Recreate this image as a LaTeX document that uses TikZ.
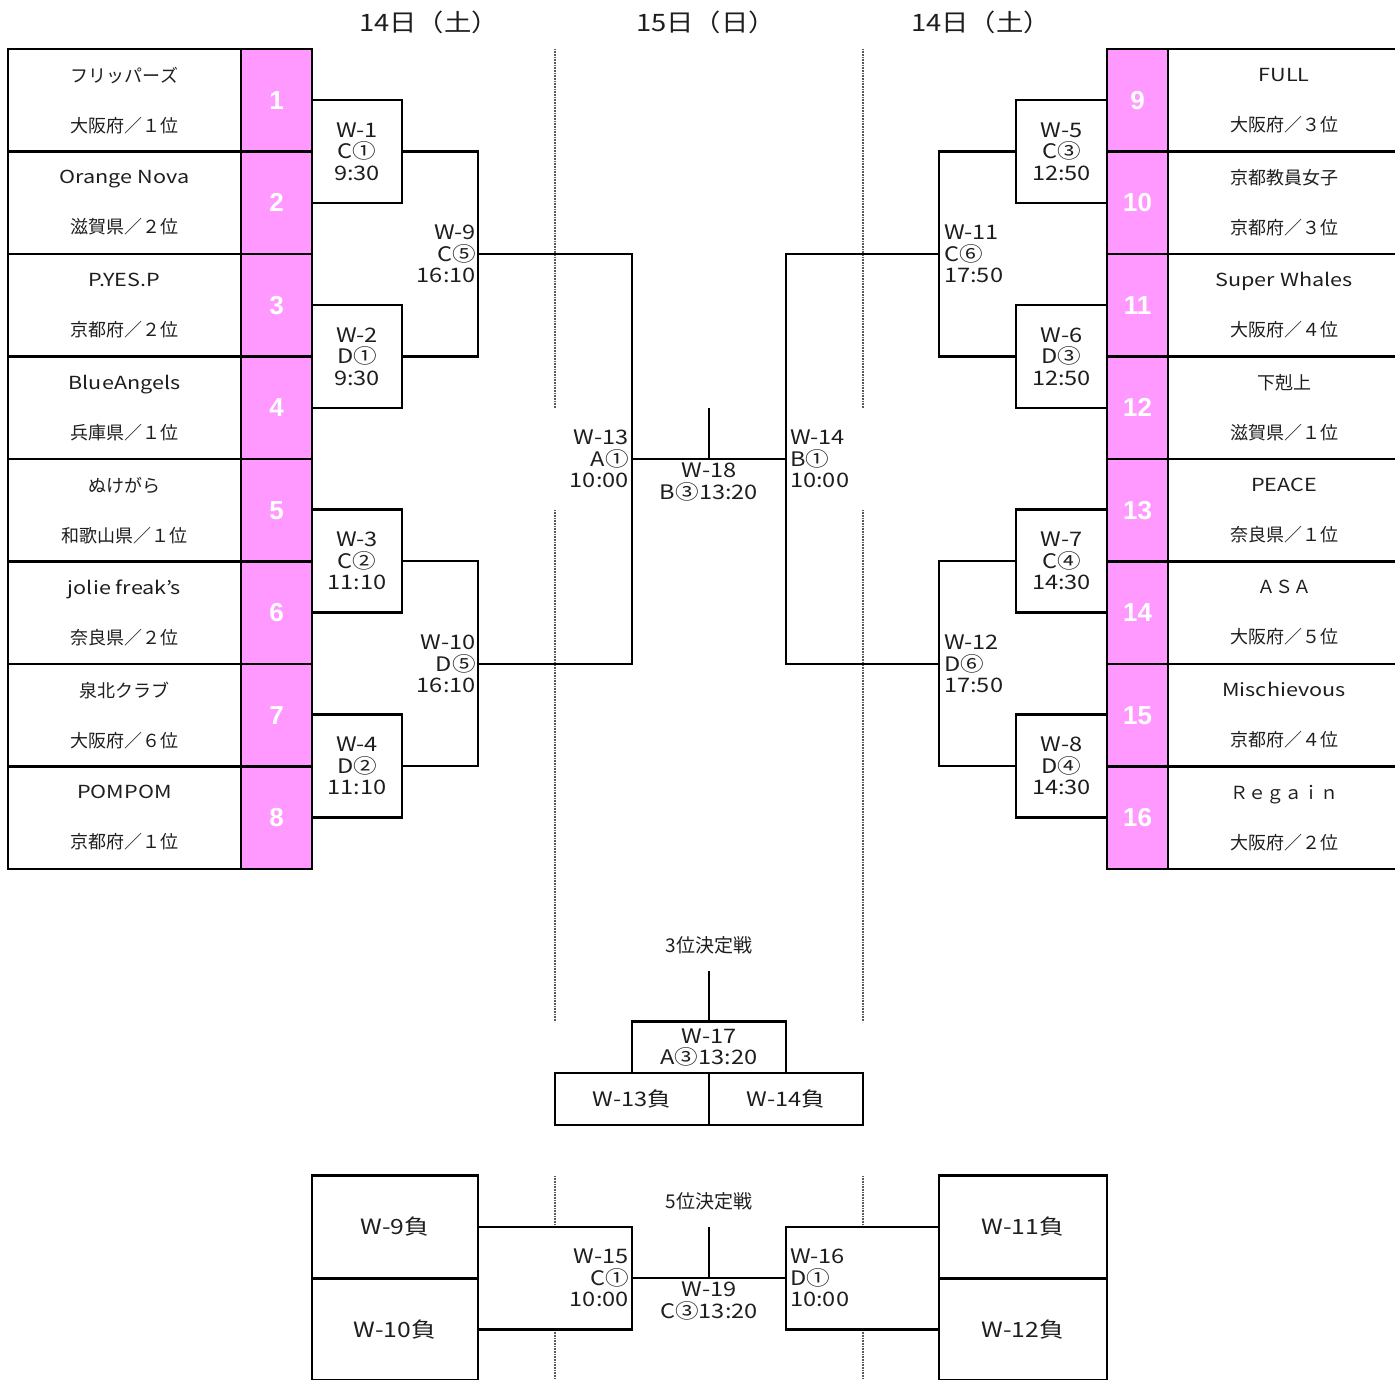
\documentclass[tikz,border=0pt]{standalone}
\usepackage{fontspec}
\setmainfont{Noto Sans CJK JP}
\newfontfamily\wide[FakeStretch=1.18]{Noto Sans CJK JP}
\newfontfamily\lat[FakeStretch=1.2]{Noto Sans CJK JP}
\newfontfamily\ttl[FakeStretch=1.14]{Noto Sans CJK JP}
\newfontfamily\numfont{Liberation Sans}
\definecolor{pinkcell}{RGB}{255,153,255}
\definecolor{ink}{RGB}{30,30,30}
\definecolor{dotgray}{RGB}{90,90,90}
\begin{document}
\begin{tikzpicture}[x=1pt,y=-1pt,
  lw/.style={line width=2.8pt},
  team/.style={draw=black,lw,fill=white,minimum width=233pt,minimum height=102.5pt,inner sep=0pt,align=center,text=ink,font=\fontsize{18}{52}\selectfont},
  rteam/.style={team,minimum width=232pt},
  seed/.style={draw=black,lw,fill=pinkcell,minimum width=71pt,minimum height=102.5pt,inner sep=0pt,text=white,font=\numfont\bfseries\fontsize{26}{30}\selectfont},
  rseed/.style={seed,minimum width=61pt},
  matchbox/.style={draw=black,lw,fill=white,minimum width=90pt,minimum height=103pt,inner sep=0pt,align=center,text=ink,font=\wide\fontsize{20}{21.5}\selectfont},
  lab/.style={inner sep=0pt,text=ink,font=\wide\fontsize{20}{21.5}\selectfont},
  smallbox/.style={draw=black,lw,fill=white,minimum width=154pt,minimum height=51.5pt,inner sep=0pt,align=center,text=ink,font=\wide\fontsize{20}{21.5}\selectfont},
  losebox/.style={draw=black,lw,fill=white,minimum width=166pt,minimum height=102.5pt,inner sep=0pt,align=center,text=ink,font=\wide\fontsize{21}{24}\selectfont},
  title/.style={inner sep=0pt,text=ink,font=\ttl\fontsize{24}{28}\selectfont},
  captext/.style={inner sep=0pt,text=ink,font=\fontsize{19}{22}\selectfont},
  dots/.style={draw=dotgray,line width=1.3pt,dash pattern=on 0.8pt off 0.8pt},
  wire/.style={draw=black,lw}
]
\useasboundingbox (0,0) rectangle (1395,1380);
% dotted day separators
\foreach \x in {555,863}{
  \draw[dots] (\x,49) -- (\x,408);
  \draw[dots] (\x,510) -- (\x,1022);
  \draw[dots] (\x,1176) -- (\x,1227);
  \draw[dots] (\x,1330) -- (\x,1385);
}
% titles
\node[title] (d1) at (429,22) {14日（土）};
\node[title] (d2) at (706,22) {15日（日）};
\node[title] (d3) at (981,22) {14日（土）};
% left teams
\node[team] (t1) at (124.5,100.25) {\raisebox{-2pt}{フリッパーズ}\\大阪府／１位};
\node[team] (t2) at (124.5,202.75) {\raisebox{-2pt}{\lat Orange Nova}\\滋賀県／２位};
\node[team] (t3) at (124.5,305.25) {\raisebox{-2pt}{\lat P.YES.P}\\京都府／２位};
\node[team] (t4) at (124.5,407.75) {\raisebox{-2pt}{\lat BlueAngels}\\兵庫県／１位};
\node[team] (t5) at (124.5,510.25) {\raisebox{-2pt}{ぬけがら}\\和歌山県／１位};
\node[team] (t6) at (124.5,612.75) {\raisebox{-2pt}{\lat jolie freak’s}\\奈良県／２位};
\node[team] (t7) at (124.5,715.25) {\raisebox{-2pt}{泉北クラブ}\\大阪府／６位};
\node[team] (t8) at (124.5,817.75) {\raisebox{-2pt}{\lat POMPOM}\\京都府／１位};
\foreach \i/\y in {1/100.25,2/202.75,3/305.25,4/407.75,5/510.25,6/612.75,7/715.25,8/817.75}{
  \node[seed] (s\i) at (276.5,\y) {\i};
}
% right teams
\node[rteam] (t9) at (1284,100.25) {\raisebox{-2pt}{\lat FULL}\\大阪府／３位};
\node[rteam] (t10) at (1284,202.75) {\raisebox{-2pt}{京都教員女子}\\京都府／３位};
\node[rteam] (t11) at (1284,305.25) {\raisebox{-2pt}{\lat Super Whales}\\大阪府／４位};
\node[rteam] (t12) at (1284,407.75) {\raisebox{-2pt}{下剋上}\\滋賀県／１位};
\node[rteam] (t13) at (1284,510.25) {\raisebox{-2pt}{\lat PEACE}\\奈良県／１位};
\node[rteam] (t14) at (1284,612.75) {\raisebox{-2pt}{ＡＳＡ}\\大阪府／５位};
\node[rteam] (t15) at (1284,715.25) {\raisebox{-2pt}{\lat Mischievous}\\京都府／４位};
\node[rteam] (t16) at (1284,817.75) {\raisebox{-2pt}{Ｒｅｇａｉｎ}\\大阪府／２位};
\foreach \i/\y in {9/100.25,10/202.75,11/305.25,12/407.75,13/510.25,14/612.75,15/715.25,16/817.75}{
  \node[rseed] (s\i) at (1137.5,\y) {\i};
}
% first round match boxes
\node[matchbox] (m1) at (357,151.5) {W-1\\C①\\9:30};
\node[matchbox] (m2) at (357,356.5) {W-2\\D①\\9:30};
\node[matchbox] (m3) at (357,561) {W-3\\C②\\11:10};
\node[matchbox] (m4) at (357,766) {W-4\\D②\\11:10};
\node[matchbox,minimum width=91pt] (m5) at (1061.5,151.5) {W-5\\C③\\12:50};
\node[matchbox,minimum width=91pt] (m6) at (1061.5,356.5) {W-6\\D③\\12:50};
\node[matchbox,minimum width=91pt] (m7) at (1061.5,561) {W-7\\C④\\14:30};
\node[matchbox,minimum width=91pt] (m8) at (1061.5,766) {W-8\\D④\\14:30};
% bracket junctions
\coordinate (w9) at (478,254);
\coordinate (w10) at (478,664);
\coordinate (w11) at (939,254);
\coordinate (w12) at (939,664);
\coordinate (w13) at (632,459);
\coordinate (w14) at (786,459);
\coordinate (w18top) at (709,408);
\draw[wire] (m1.east) -| (w9) |- (m2.east);
\draw[wire] (m3.east) -| (w10) |- (m4.east);
\draw[wire] (m5.west) -| (w11) |- (m6.west);
\draw[wire] (m7.west) -| (w12) |- (m8.west);
\draw[wire] (w9) -| (w13) |- (w10);
\draw[wire] (w11) -| (w14) |- (w12);
\draw[wire] (w13) -- (w14);
\draw[wire] (w18top) -- (w18top |- w13);
% labels
\node[lab,anchor=east,align=right] (l9) at (476,254) {W-9\\C⑤\\16:10};
\node[lab,anchor=east,align=right] (l10) at (476,664) {W-10\\D⑤\\16:10};
\node[lab,anchor=east,align=right] (l13) at (629,459) {W-13\\A①\\10:00};
\node[lab,anchor=west,align=left] (l14) at (790,459) {W-14\\B①\\10:00};
\node[lab,anchor=west,align=left] (l11) at (944,254) {W-11\\C⑥\\17:50};
\node[lab,anchor=west,align=left] (l12) at (944,664) {W-12\\D⑥\\17:50};
\node[lab,align=center] (l18) at (709,482) {W-18\\B③13:20};
% third place
\node[captext] (p3) at (709,945) {3位決定戦};
\coordinate (t17) at (709,971);
\node[smallbox] (m17) at (709,1047.5) {W-17\\A③13:20};
\draw[wire] (t17) -- (m17.north);
\node[smallbox,minimum height=52pt] (x13) at (632,1099) {W-13負};
\node[smallbox,minimum height=52pt] (x14) at (786,1099) {W-14負};
% fifth place
\node[captext] (p5) at (709,1201) {5位決定戦};
\node[losebox] (x9) at (395,1227) {W-9負};
\node[losebox] (x10) at (395,1329.5) {W-10負};
\node[losebox,minimum width=168pt] (x11) at (1023,1227) {W-11負};
\node[losebox,minimum width=168pt] (x12) at (1023,1329.5) {W-12負};
\coordinate (w15) at (632,1278);
\coordinate (w16) at (786,1278);
\coordinate (t19) at (709,1227);
\draw[wire] (x9.east) -| (w15) |- (x10.east);
\draw[wire] (x11.west) -| (w16) |- (x12.west);
\draw[wire] (w15) -- (w16);
\draw[wire] (t19) -- (t19 |- w15);
\node[lab,anchor=east,align=right] (l15) at (629,1278) {W-15\\C①\\10:00};
\node[lab,anchor=west,align=left] (l16) at (790,1278) {W-16\\D①\\10:00};
\node[lab,align=center] (l19) at (709,1301) {W-19\\C③13:20};
\end{tikzpicture}
\end{document}
